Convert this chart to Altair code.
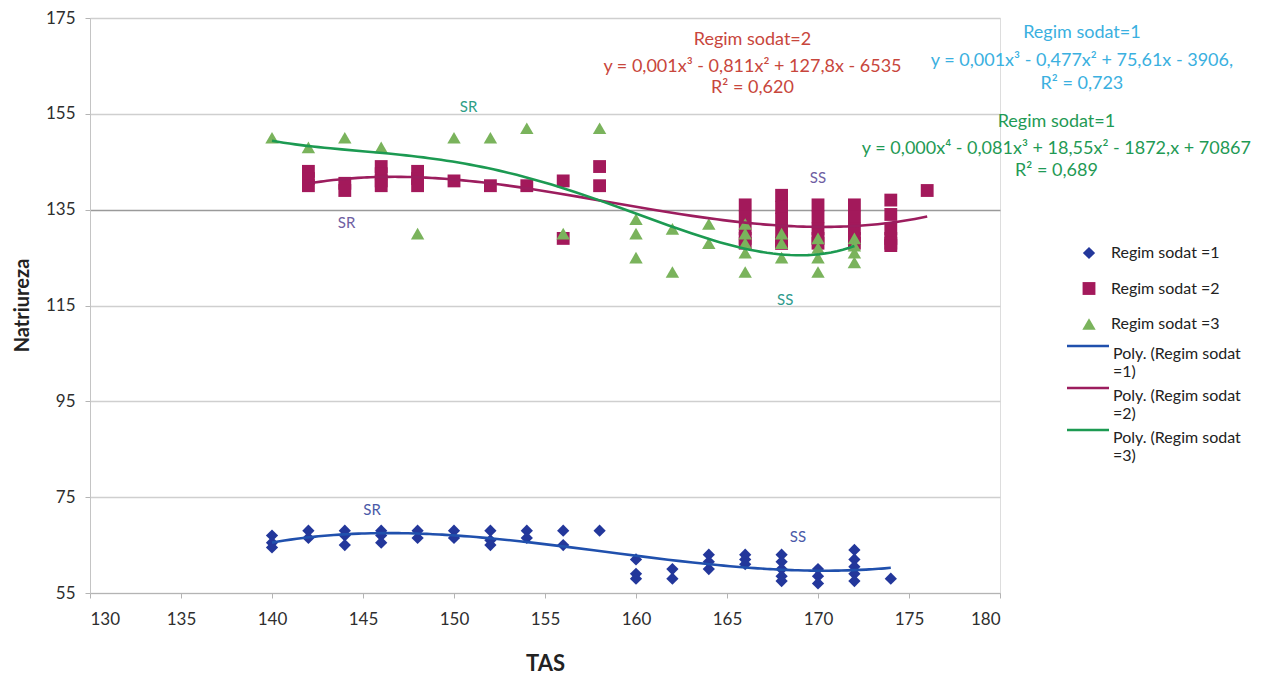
import altair as alt
import pandas as pd

# ---------------- data ----------------
# Regim sodat = 1 (blue diamonds)
s1_x = [140, 142, 144, 146, 148, 150, 152, 154, 156, 158, 160, 162, 164, 166, 168, 170, 172, 174]
s1_y = [[67, 65.5, 64.5], [68, 66.5], [68, 67, 65], [68, 67, 65.5], [68, 66.5], [68, 66.5],
        [68, 66, 65], [68, 66.5], [68, 65], [68], [62, 59, 58], [60, 58], [63, 61.5, 60],
        [63, 62, 61], [63, 61.5, 60, 58.5, 57.5], [60, 58.5, 57], [64, 62, 60.5, 59, 57.5], [58]]

# Regim sodat = 2 (magenta squares)
s2_x = [142, 144, 146, 148, 150, 152, 154, 156, 158, 166, 168, 170, 172, 174, 176]
s2_y = [[143, 141.5, 140], [140.5, 139], [144, 142.5, 141, 140], [143, 141.5, 140], [141], [140],
        [140], [141, 129], [144, 140], [136, 133.5, 131, 129, 128], [138, 135.5, 133, 130.5, 128, 128],
        [136, 133.5, 131, 129, 128], [136, 133.5, 131, 129, 128], [137, 134, 131, 129, 128, 127.5], [139]]

# Regim sodat = 3 (green triangles)
s3_x = [140, 142, 144, 146, 148, 150, 152, 154, 156, 158, 160, 162, 164, 166, 168, 170, 172]
s3_y = [[150], [148], [150], [148], [130], [150], [150], [152], [130], [152], [133, 130, 125],
        [131, 122], [132, 128], [132, 130, 128, 126, 122], [130, 128, 125], [129, 127, 125, 122],
        [129, 127.5, 126, 124]]

series_names = ["Regim sodat =1", "Regim sodat =2", "Regim sodat =3"]
poly_names = ["Poly. (Regim sodat|=1)", "Poly. (Regim sodat|=2)", "Poly. (Regim sodat|=3)"]
point_colors = ["#23379b", "#a3195b", "#7ab35c"]
point_sizes = [150, 180, 175]
line_colors = ["#2050ad", "#9c1d5e", "#1c9a52"]
poly_orders = [3, 3, 4]

# annotations
note_text = ["SR", "SR", "SS", "SS", "SR", "SS"]
note_x = [150.8, 144.1, 170.0, 168.2, 145.5, 168.9]
note_y = [156.4, 132.2, 141.6, 116.1, 72.3, 66.7]
note_color = ["#2e9e86", "#6e5ea2", "#6e5ea2", "#2e9a8c", "#4a5aa8", "#4a5aa8"]

eq_text = ["Regim sodat=2", "y = 0,001x³ - 0,811x² + 127,8x - 6535", "R² = 0,620",
           "Regim sodat=1", "y = 0,001x³ - 0,477x² + 75,61x - 3906,", "R² = 0,723",
           "Regim sodat=1", "y = 0,000x⁴ - 0,081x³ + 18,55x² - 1872,x + 70867", "R² = 0,689"]
eq_x = [166.4, 166.4, 166.4, 184.5, 184.5, 184.5, 183.1, 183.1, 183.1]
eq_y = [170.4, 164.8, 160.4, 171.9, 166.0, 161.2, 153.3, 147.6, 143.0]
eq_color = ["#c8463c"] * 3 + ["#3ab0e0"] * 3 + ["#1f9a55"] * 3

# ---------------- build tables ----------------
rows = []
for k, (xs, ys) in enumerate([(s1_x, s1_y), (s2_x, s2_y), (s3_x, s3_y)]):
    for xv, yl in zip(xs, ys):
        for yv in yl:
            rows.append({"TAS": xv, "Natriureza": yv, "series": series_names[k],
                         "poly": poly_names[k], "k": k + 1})
df = pd.DataFrame(rows)
notes = pd.DataFrame({"x": note_x, "y": note_y, "t": note_text, "c": note_color})
eqs = pd.DataFrame({"x": eq_x, "y": eq_y, "t": eq_text, "c": eq_color})

FONT = "Lato"
xscale = alt.Scale(domain=[130, 180], nice=False, zero=False)
yscale = alt.Scale(domain=[55, 175], nice=False, zero=False)

xaxis = alt.Axis(values=list(range(130, 181, 5)), grid=False, tickSize=5, labelFontSize=17,
                 labelColor="#2e2e2e", labelPadding=13, domainColor="#b4b4b4", tickColor="#b4b4b4",
                 title="TAS", titleFontSize=22, titleFontWeight="bold", titleColor="#222",
                 titleBaseline="middle", titleY=70)
yaxis = alt.Axis(values=[55, 75, 95, 115, 135, 155, 175], grid=True,
                 gridColor=alt.condition("datum.value == 135", alt.value("#9a9a9a"), alt.value("#cfcfcf")),
                 gridWidth=1.3, tickSize=5, labelFontSize=17, labelColor="#2e2e2e", labelPadding=10,
                 domainColor="#c4c4c4", tickColor="#b4b4b4",
                 title="Natriureza", titleFontSize=20, titleFontWeight="bold", titleColor="#222",
                 titleBaseline="middle", titleX=-68, titleY=287)

pt_legend = alt.Legend(title=None, orient="none", legendX=991, legendY=227,
                       symbolSize=150, labelFontSize=16, labelColor="#222",
                       labelOffset=14, rowPadding=19.5, padding=0, symbolStrokeWidth=0)

points = alt.Chart(df).mark_point(filled=True, opacity=1, strokeWidth=0).encode(
    x=alt.X("TAS:Q", scale=xscale, axis=xaxis),
    y=alt.Y("Natriureza:Q", scale=yscale, axis=yaxis),
    color=alt.Color("series:N", scale=alt.Scale(domain=series_names, range=point_colors),
                    legend=pt_legend),
    shape=alt.Shape("series:N", scale=alt.Scale(domain=series_names,
                                                 range=["diamond", "square", "triangle-up"]),
                    legend=pt_legend),
    size=alt.Size("series:N", scale=alt.Scale(domain=series_names, range=point_sizes),
                  legend=None),
    order=alt.Order("k:Q"),
)

poly_legend = alt.Legend(title=None, orient="none", legendX=990, legendY=320,
                         symbolType="M-3.5,0H3.5", symbolSize=144, symbolStrokeWidth=2.4,
                         labelFontSize=16, labelColor="#222", labelOffset=17, rowPadding=-10,
                         padding=0, labelBaseline="top", labelLimit=300,
                         labelExpr="split(datum.label, '|')")

line_layers = []
for k in range(3):
    line_layers.append(
        alt.Chart(df).transform_filter(alt.datum.k == k + 1)
        .transform_regression("TAS", "Natriureza", method="poly", order=poly_orders[k],
                              groupby=["poly"])
        .mark_line(strokeWidth=2.6)
        .encode(x=alt.X("TAS:Q", scale=xscale),
                y=alt.Y("Natriureza:Q", scale=yscale),
                color=alt.Color("poly:N", scale=alt.Scale(domain=poly_names, range=line_colors),
                                legend=poly_legend))
    )
lines = alt.layer(*line_layers)

note_layer = alt.Chart(notes).mark_text(fontSize=15, font=FONT).encode(
    x=alt.X("x:Q", scale=xscale), y=alt.Y("y:Q", scale=yscale), text="t:N",
    color=alt.Color("c:N", scale=None))

eq_layer = alt.Chart(eqs).mark_text(fontSize=18, font=FONT).encode(
    x=alt.X("x:Q", scale=xscale), y=alt.Y("y:Q", scale=yscale), text="t:N",
    color=alt.Color("c:N", scale=None))

chart = alt.layer(points, lines, note_layer, eq_layer).resolve_scale(
    color="independent", shape="independent", size="independent"
).properties(
    width=910, height=575,
    padding={"left": 90, "top": 18, "right": 273, "bottom": 84},
    autosize=alt.AutoSizeParams(type="none"),
    background="white",
).configure_view(strokeWidth=0).configure(font=FONT)

chart.save("out.html", embed_options={"renderer": "svg", "actions": False})
